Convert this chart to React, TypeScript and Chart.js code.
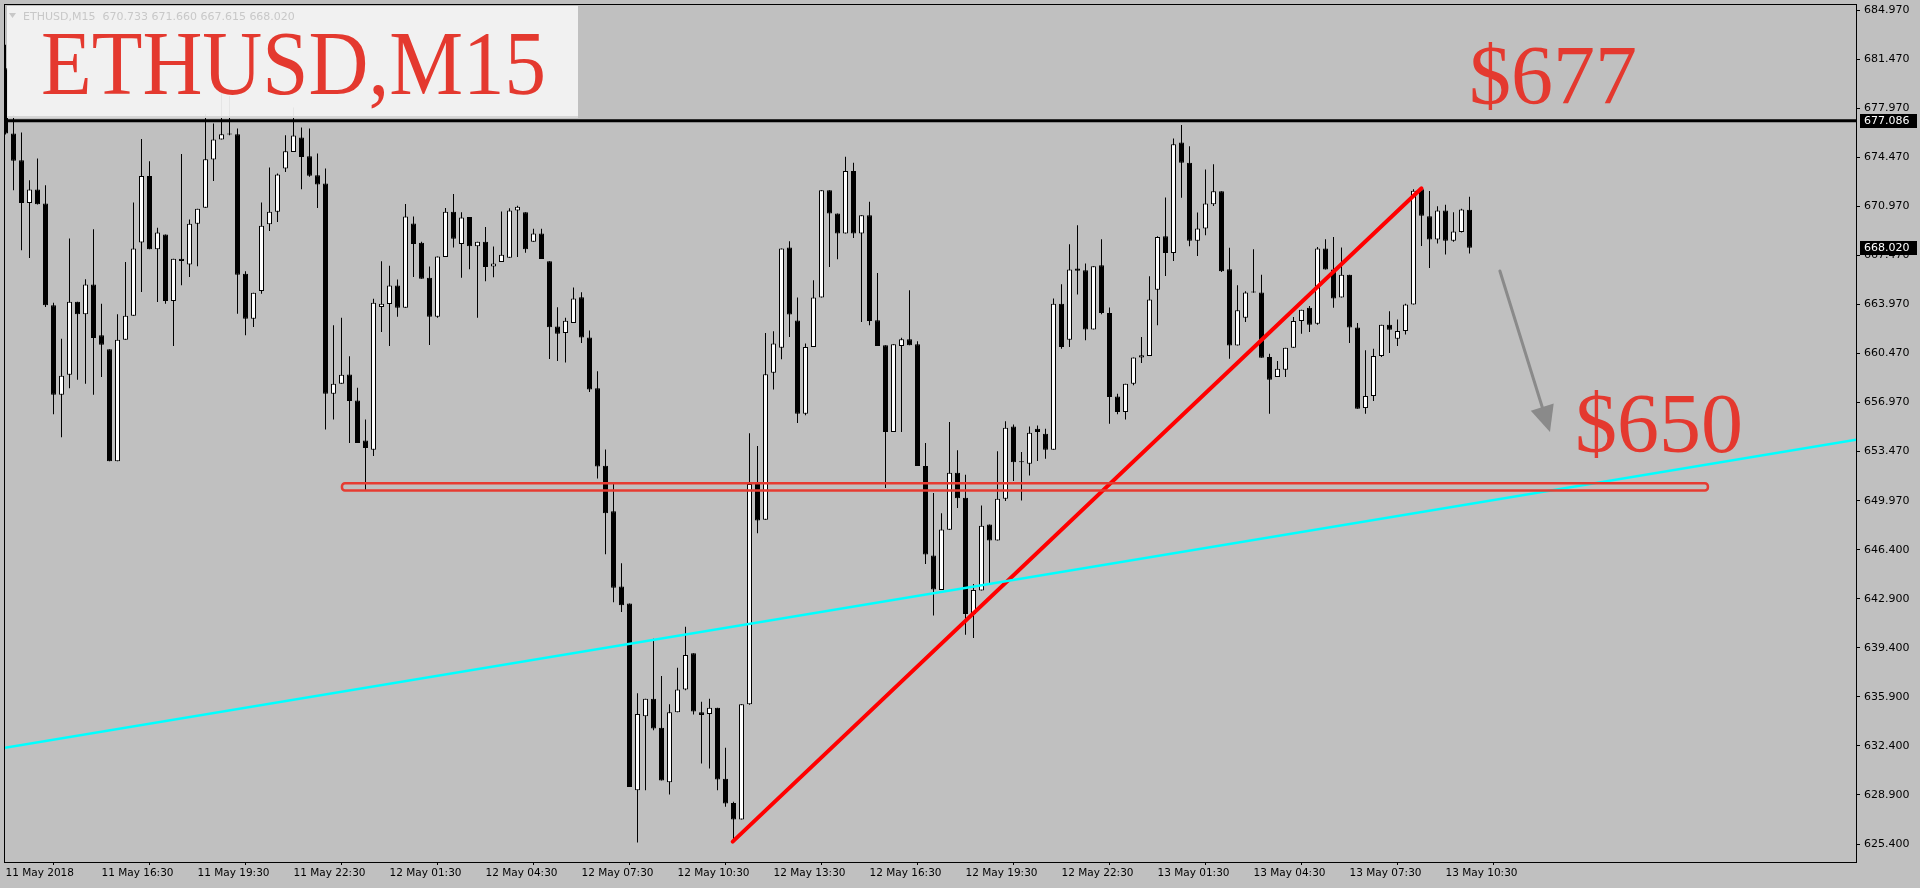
import React, { useEffect, useRef } from 'react';
import { Chart, registerables } from 'chart.js';

Chart.register(...registerables);

// ---- data (15-minute candles, 11 May 2018 13:30 -> 13 May 2018 11:15) ----
const opens = [
  680.82, 676.17, 674.27, 671.22, 672.17, 671.17, 663.91, 657.53, 658.96, 664.17,
  663.27, 665.39, 661.77, 660.77, 652.79, 661.46, 663.17, 668.39, 673.13, 667.91,
  668.96, 664.22, 667.24, 666.82, 669.74, 670.88, 674.31, 675.74, 676.12, 676.12,
  666.17, 662.96, 664.93, 669.69, 670.58, 673.67, 674.86, 675.88, 674.55, 673.2,
  672.6, 657.6, 658.31, 658.98, 657.12, 654.27, 653.6, 663.79, 664.0, 665.32,
  663.74, 669.75, 668.38, 665.87, 663.09, 667.36, 670.58, 668.29, 670.21, 668.13,
  668.45, 666.68, 667.0, 667.3, 670.68, 670.55, 668.45, 669.03, 667.05, 662.4,
  661.94, 662.65, 664.48, 661.62, 657.99, 652.46, 649.21, 643.84, 642.64, 629.3,
  634.59, 635.84, 633.76, 629.87, 634.88, 636.49, 639.08, 634.88, 634.75, 635.19,
  630.12, 628.39, 627.22, 635.45, 651.16, 648.61, 659.1, 660.89, 668.03, 662.82,
  656.18, 660.94, 664.46, 672.13, 670.46, 669.03, 673.49, 669.03, 670.34, 662.84,
  661.06, 654.87, 661.01, 661.49, 661.13, 652.44, 646.06, 643.6, 647.89, 651.96,
  650.18, 641.89, 643.56, 648.27, 647.13, 650.1, 655.27, 652.77, 652.6, 655.1,
  654.75, 653.6, 664.03, 661.46, 666.53, 666.41, 662.18, 666.77, 663.37, 657.41,
  656.29, 658.32, 660.18, 660.29, 665.03, 668.84, 667.65, 675.53, 674.08, 668.51,
  669.39, 671.13, 672.05, 666.48, 661.05, 663.03, 664.82, 664.82, 660.22, 658.79,
  659.32, 660.89, 662.79, 663.74, 662.6, 667.96, 666.46, 664.46, 666.1, 662.32,
  656.58, 657.44, 660.29, 662.53, 661.53, 662.08, 663.96, 672.2, 670.27, 668.6,
  670.68, 668.51, 669.15, 670.733,
];

const highs = [
  682.5, 677.48, 676.24, 672.84, 674.39, 672.48, 664.1, 661.53, 668.67, 664.17,
  665.77, 669.34, 664.03, 660.77, 663.27, 667.0, 671.24, 675.77, 674.2, 669.44,
  668.96, 667.24, 674.7, 670.03, 670.8, 677.55, 676.88, 679.1, 678.84, 676.53,
  666.34, 664.81, 671.24, 673.74, 673.31, 676.05, 678.03, 676.6, 676.53, 674.74,
  673.67, 662.48, 663.03, 660.27, 658.03, 655.77, 664.38, 667.05, 666.74, 665.75,
  671.14, 670.24, 668.45, 666.68, 667.39, 670.86, 671.85, 670.55, 670.21, 668.45,
  669.5, 668.11, 670.61, 670.83, 671.02, 670.55, 669.37, 669.37, 667.05, 663.77,
  663.02, 665.19, 664.84, 662.12, 659.21, 653.63, 651.16, 645.5, 642.64, 636.23,
  635.84, 640.12, 637.45, 635.45, 638.05, 640.98, 639.08, 635.63, 635.84, 635.19,
  632.33, 628.49, 635.45, 654.79, 653.88, 661.93, 662.06, 667.96, 668.49, 664.46,
  661.18, 665.7, 672.13, 672.13, 670.46, 674.51, 674.08, 670.34, 671.3, 666.22,
  661.06, 661.13, 661.6, 664.99, 661.34, 654.08, 650.51, 649.08, 655.58, 653.56,
  651.82, 644.03, 649.63, 648.27, 653.49, 655.63, 655.41, 653.44, 655.27, 655.34,
  655.1, 664.39, 665.41, 668.27, 669.63, 666.89, 666.7, 668.63, 663.75, 657.6,
  658.32, 660.18, 661.65, 665.98, 668.84, 671.6, 675.82, 676.77, 675.27, 670.53,
  673.6, 673.98, 672.05, 668.01, 665.34, 664.91, 667.91, 666.1, 660.46, 659.94,
  660.89, 663.08, 663.6, 663.86, 668.08, 668.63, 668.79, 668.03, 666.1, 662.65,
  660.7, 660.82, 662.53, 663.49, 662.9, 664.03, 672.2, 672.32, 672.06, 670.98,
  671.08, 670.56, 670.8, 671.66,
];

const lows = [
  676.1, 672.13, 667.84, 667.29, 671.1, 663.79, 656.13, 654.5, 658.0, 658.6,
  658.32, 657.53, 658.79, 652.79, 652.79, 661.46, 663.17, 664.86, 667.91, 664.15,
  664.03, 661.0, 665.34, 665.94, 666.7, 670.88, 672.79, 675.74, 676.05, 663.31,
  661.77, 662.36, 664.74, 669.22, 669.86, 673.43, 674.86, 672.19, 673.08, 670.86,
  655.05, 655.77, 658.31, 654.08, 654.08, 650.7, 653.15, 662.0, 661.01, 663.09,
  663.74, 665.93, 665.81, 661.07, 663.02, 667.36, 668.04, 665.87, 666.49, 663.02,
  665.63, 665.91, 667.0, 667.3, 667.36, 667.67, 668.45, 667.21, 660.08, 659.93,
  659.83, 662.65, 661.23, 657.73, 651.55, 646.15, 642.72, 642.02, 629.53, 625.58,
  629.3, 633.58, 630.0, 629.01, 634.88, 636.44, 634.72, 631.22, 630.85, 629.3,
  628.13, 625.58, 627.22, 635.4, 647.65, 648.61, 657.91, 660.06, 661.65, 655.51,
  656.06, 660.94, 664.46, 666.65, 667.2, 669.03, 668.72, 662.72, 662.49, 661.01,
  650.87, 654.87, 654.87, 661.06, 652.44, 645.46, 641.77, 643.6, 647.89, 649.44,
  640.41, 640.17, 643.56, 644.03, 647.13, 649.94, 651.37, 649.99, 651.77, 652.8,
  652.96, 653.6, 660.82, 660.94, 664.68, 661.41, 662.18, 663.27, 655.46, 656.13,
  655.77, 658.2, 659.8, 660.29, 662.48, 666.0, 667.08, 671.58, 668.13, 667.43,
  668.91, 671.0, 666.29, 660.1, 661.05, 662.72, 664.8, 660.17, 656.17, 658.79,
  658.79, 660.89, 661.89, 662.0, 662.53, 666.46, 663.74, 664.46, 661.22, 656.53,
  656.17, 657.08, 660.22, 660.51, 661.01, 661.82, 663.96, 668.15, 666.58, 668.32,
  667.53, 668.44, 669.1, 667.615,
];

const closes = [
  676.18, 674.22, 671.22, 672.17, 671.13, 663.91, 657.53, 658.89, 664.17, 663.27,
  665.39, 661.58, 661.1, 652.79, 661.46, 663.17, 667.96, 673.13, 667.91, 669.1,
  664.22, 667.24, 667.08, 669.74, 670.8, 674.34, 675.74, 676.12, 676.1, 666.1,
  662.96, 664.81, 669.58, 670.58, 673.24, 674.91, 676.03, 674.5, 673.15, 672.53,
  657.6, 658.31, 658.96, 657.08, 654.08, 653.72, 664.1, 664.03, 665.32, 663.74,
  670.24, 668.29, 665.81, 663.09, 667.39, 670.58, 668.66, 670.18, 668.13, 668.45,
  666.65, 666.9, 667.52, 670.68, 670.95, 667.92, 669.03, 667.21, 662.34, 661.88,
  662.81, 664.39, 661.62, 657.91, 652.4, 649.08, 643.76, 642.51, 629.53, 634.75,
  635.84, 633.71, 630.0, 634.88, 636.49, 638.95, 634.93, 634.67, 635.19, 630.07,
  628.36, 627.22, 635.45, 651.16, 648.56, 659.0, 661.18, 667.96, 663.25, 656.18,
  660.94, 664.46, 672.13, 670.46, 669.03, 673.49, 669.03, 670.34, 662.79, 661.01,
  654.87, 661.13, 661.49, 661.06, 652.44, 646.13, 643.63, 647.91, 651.96, 650.15,
  641.89, 643.6, 648.18, 647.13, 650.1, 655.18, 652.72, 652.72, 654.82, 654.87,
  653.6, 664.03, 660.94, 666.46, 666.37, 662.18, 666.7, 663.37, 657.37, 656.29,
  658.32, 660.18, 660.34, 664.32, 668.79, 667.65, 675.41, 674.08, 668.51, 669.39,
  671.17, 672.05, 666.34, 661.05, 663.55, 664.82, 664.82, 660.17, 658.6, 659.39,
  660.89, 662.79, 663.6, 662.53, 667.96, 666.46, 664.39, 666.1, 662.32, 656.53,
  657.44, 660.29, 662.53, 662.17, 662.08, 663.96, 672.08, 670.3, 668.6, 670.68,
  668.51, 669.18, 670.75, 668.02,
];

const timeLabels = [
  '11 May 2018', '11 May 16:30', '11 May 19:30', '11 May 22:30',
  '12 May 01:30', '12 May 04:30', '12 May 07:30', '12 May 10:30',
  '12 May 13:30', '12 May 16:30', '12 May 19:30', '12 May 22:30',
  '13 May 01:30', '13 May 04:30', '13 May 07:30', '13 May 10:30',
];
const timeLabelStep = 12;

const priceTickValues = [
  684.97, 681.47, 677.97, 674.47, 670.97, 667.47, 663.97, 660.47, 656.97,
  653.47, 649.97, 646.47, 642.97, 639.47, 635.97, 632.47, 628.97, 625.47,
];
const priceTickLabels = [
  '684.970', '681.470', '677.970', '674.470', '670.970', '667.470', '663.970',
  '660.470', '656.970', '653.470', '649.970', '646.400', '642.900', '639.400',
  '635.900', '632.400', '628.900', '625.400',
];

const resistanceLevel = 677.086;
const lastPrice = 668.02;
const resistanceText = '677.086';
const lastPriceText = '668.020';

const cyanTrend = [
  { x: -0.0625, y: 632.33 },
  { x: 231.3125, y: 654.32 },
];
const redTrend = [
  { x: 90.9, y: 625.64 },
  { x: 177.0, y: 672.26 },
];
const zoneBars = [42.06, 212.8];
const zonePrices = [650.7, 651.22];
const arrowFrom = { x: 186.8, y: 666.36 };
const arrowTo = { x: 193.06, y: 654.87 };

const headerText = 'ETHUSD,M15  670.733 671.660 667.615 668.020';
const titleText = 'ETHUSD,M15';
const upperTargetText = '$677';
const lowerTargetText = '$650';

const X_MIN = -0.0625;
const X_MAX = 231.3125;
const Y_MIN = 624.186;
const Y_MAX = 685.341;

export default function App() {
  const ref = useRef<HTMLCanvasElement>(null);

  useEffect(() => {
    const canvas = ref.current;
    if (!canvas) return;

    const bodyData = opens.map((o, i) => ({ x: i, y: [o, closes[i]] }));
    const wickData = highs.map((h, i) => ({ x: i, y: [lows[i], h] }));
    const bodyColors = opens.map((o, i) => (closes[i] >= o ? '#FFFFFF' : '#000000'));
    const levelLine = [
      { x: X_MIN, y: resistanceLevel },
      { x: X_MAX, y: resistanceLevel },
    ];

    const zeroPadding = (scale: any) => {
      scale.paddingTop = 0;
      scale.paddingBottom = 0;
      scale.paddingLeft = 0;
      scale.paddingRight = 0;
    };

    const overlay = {
      id: 'mt4overlay',
      beforeDraw(chart: any) {
        const { ctx, width, height } = chart;
        ctx.save();
        ctx.fillStyle = '#C0C0C0';
        ctx.fillRect(0, 0, width, height);
        ctx.restore();
      },
      afterDraw(chart: any) {
        const { ctx, chartArea } = chart;
        const xs = chart.scales.x;
        const ys = chart.scales.y;
        ctx.save();

        // support zone rectangle
        const zx1 = xs.getPixelForValue(zoneBars[0]);
        const zx2 = xs.getPixelForValue(zoneBars[1]);
        const zy1 = ys.getPixelForValue(zonePrices[1]);
        const zy2 = ys.getPixelForValue(zonePrices[0]);
        ctx.strokeStyle = '#E63B31';
        ctx.lineWidth = 2.5;
        ctx.beginPath();
        if ((ctx as any).roundRect) {
          (ctx as any).roundRect(zx1, zy1, zx2 - zx1, zy2 - zy1, 3);
        } else {
          ctx.rect(zx1, zy1, zx2 - zx1, zy2 - zy1);
        }
        ctx.stroke();

        // grey arrow
        const ax1 = xs.getPixelForValue(arrowFrom.x);
        const ay1 = ys.getPixelForValue(arrowFrom.y);
        const ax2 = xs.getPixelForValue(arrowTo.x);
        const ay2 = ys.getPixelForValue(arrowTo.y);
        const ang = Math.atan2(ay2 - ay1, ax2 - ax1);
        const headLen = 26;
        const headHalf = 12;
        const bx = ax2 - headLen * Math.cos(ang);
        const by = ay2 - headLen * Math.sin(ang);
        ctx.strokeStyle = '#8A8A8A';
        ctx.fillStyle = '#8A8A8A';
        ctx.lineWidth = 3;
        ctx.lineCap = 'round';
        ctx.beginPath();
        ctx.moveTo(ax1, ay1);
        ctx.lineTo(bx + 4 * Math.cos(ang), by + 4 * Math.sin(ang));
        ctx.stroke();
        ctx.beginPath();
        ctx.moveTo(ax2, ay2);
        ctx.lineTo(bx + headHalf * Math.sin(ang), by - headHalf * Math.cos(ang));
        ctx.lineTo(bx - headHalf * Math.sin(ang), by + headHalf * Math.cos(ang));
        ctx.closePath();
        ctx.fill();

        // target texts
        ctx.fillStyle = '#E4392F';
        ctx.textBaseline = 'alphabetic';
        ctx.textAlign = 'left';
        ctx.font = '84px "Liberation Serif", serif';
        ctx.fillText(upperTargetText, 1469, 104);
        ctx.fillText(lowerTargetText, 1575, 452);

        // title box
        ctx.fillStyle = 'rgba(243,243,243,0.94)';
        ctx.fillRect(7, 6, 571, 111);
        ctx.fillStyle = '#D6D6D6';
        ctx.fillRect(7, 116, 571, 2);
        // header triangle and text
        ctx.fillStyle = '#C8C8C8';
        ctx.beginPath();
        ctx.moveTo(9, 13);
        ctx.lineTo(16, 13);
        ctx.lineTo(12.5, 18);
        ctx.closePath();
        ctx.fill();
        ctx.font = '11px "DejaVu Sans", sans-serif';
        ctx.fillText(headerText, 23, 20);
        // big title
        ctx.fillStyle = '#E4392F';
        ctx.font = '92px "Liberation Serif", serif';
        ctx.fillText(titleText, 41, 94, 505);

        // plot frame
        ctx.strokeStyle = '#000000';
        ctx.lineWidth = 1;
        ctx.strokeRect(
          chartArea.left - 0.5,
          chartArea.top - 0.5,
          chartArea.right - chartArea.left + 1,
          chartArea.bottom - chartArea.top + 1
        );

        // price markers on the right axis
        const drawMarker = (price: number, text: string) => {
          const y = Math.round(ys.getPixelForValue(price));
          ctx.fillStyle = '#000000';
          ctx.fillRect(chartArea.right + 4, y - 7, 57, 14);
          ctx.fillStyle = '#FFFFFF';
          ctx.font = '11px "DejaVu Sans", sans-serif';
          ctx.textBaseline = 'middle';
          ctx.fillText(text, chartArea.right + 8, y + 0.5);
        };
        drawMarker(resistanceLevel, resistanceText);
        drawMarker(lastPrice, lastPriceText);

        ctx.restore();
      },
    };

    const chart = new Chart(canvas, {
      type: 'bar',
      data: {
        datasets: [
          {
            type: 'line',
            data: levelLine,
            borderColor: '#000000',
            borderWidth: 3,
            pointRadius: 0,
            order: 0,
          } as any,
          {
            type: 'line',
            data: cyanTrend,
            borderColor: '#00FFFF',
            borderWidth: 2.5,
            pointRadius: 0,
            order: 0,
          } as any,
          {
            type: 'line',
            data: redTrend,
            borderColor: '#FF0000',
            borderWidth: 4,
            borderCapStyle: 'round',
            pointRadius: 0,
            order: 0,
          } as any,
          {
            type: 'bar',
            data: bodyData,
            backgroundColor: bodyColors,
            borderColor: '#000000',
            borderWidth: 1,
            borderSkipped: false,
            barThickness: 5,
            minBarLength: 1,
            grouped: false,
            inflateAmount: 0,
            order: 1,
          } as any,
          {
            type: 'bar',
            data: wickData,
            backgroundColor: '#000000',
            borderWidth: 0,
            barThickness: 1,
            grouped: false,
            inflateAmount: 0,
            order: 2,
          } as any,
        ],
      },
      options: {
        animation: false,
        responsive: false,
        devicePixelRatio: 1,
        events: [],
        layout: { padding: { left: 5, top: 5, right: 0, bottom: 0 } },
        plugins: {
          legend: { display: false },
          tooltip: { enabled: false },
        },
        scales: {
          x: {
            type: 'linear',
            min: X_MIN,
            max: X_MAX,
            offset: false,
            afterBuildTicks: (scale: any) => {
              scale.ticks = timeLabels.map((_, i) => ({ value: i * timeLabelStep }));
            },
            afterFit: (scale: any) => {
              scale.height = 26;
              zeroPadding(scale);
            },
            ticks: {
              callback: (_v: any, idx: number) => timeLabels[idx],
              align: 'start',
              autoSkip: false,
              maxRotation: 0,
              minRotation: 0,
              padding: 2,
              color: '#000000',
              font: { family: '"DejaVu Sans", sans-serif', size: 10.5 },
            },
            grid: {
              display: true,
              drawOnChartArea: false,
              drawTicks: true,
              tickLength: 3,
              color: '#000000',
            },
            border: { display: false },
          },
          y: {
            type: 'linear',
            position: 'right',
            min: Y_MIN,
            max: Y_MAX,
            afterBuildTicks: (scale: any) => {
              scale.ticks = priceTickValues.map((v) => ({ value: v }));
            },
            afterFit: (scale: any) => {
              scale.width = 64;
              zeroPadding(scale);
            },
            ticks: {
              callback: (_v: any, idx: number) => priceTickLabels[idx],
              autoSkip: false,
              padding: 4,
              color: '#000000',
              font: { family: '"DejaVu Sans", sans-serif', size: 11 },
            },
            grid: {
              display: true,
              drawOnChartArea: false,
              drawTicks: true,
              tickLength: 4,
              color: '#000000',
            },
            border: { display: false },
          },
        },
      } as any,
      plugins: [overlay],
    });

    return () => chart.destroy();
  }, []);

  return (
    <div
      style={{
        position: 'fixed',
        left: 0,
        top: 0,
        width: 1920,
        height: 888,
        background: '#C0C0C0',
      }}
    >
      <canvas ref={ref} width={1920} height={888} style={{ display: 'block', width: 1920, height: 888 }} />
    </div>
  );
}
